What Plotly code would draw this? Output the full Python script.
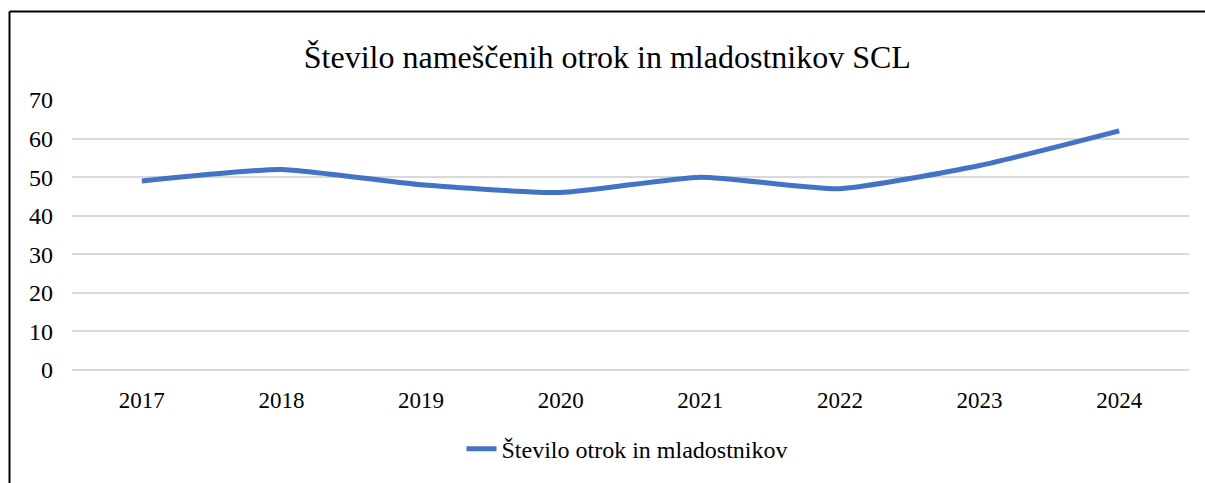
import plotly.graph_objects as go

years = ["2017", "2018", "2019", "2020", "2021", "2022", "2023", "2024"]
values = [49, 52, 48, 46, 50, 47, 53, 62]
series_name = "Število otrok in mladostnikov"
title_text = "Število nameščenih otrok in mladostnikov SCL"
y_ticks = [0, 10, 20, 30, 40, 50, 60, 70]

W, H = 1205, 483
L, R, T, B = 72, 16, 100, 110
pw, ph = W - L - R, H - T - B

fig = go.Figure()
fig.add_trace(go.Scatter(
    x=years, y=values, mode="lines", name=series_name,
    line=dict(color="#4472C4", width=5, shape="spline", smoothing=0.5),
    showlegend=True,
))

font_family = "Liberation Serif, Times New Roman, serif"

bx = (9.5 - L) / pw
by = (H - B - 10.5) / ph

fig.update_layout(
    width=W, height=H,
    margin=dict(l=L, r=R, t=T, b=B),
    paper_bgcolor="white", plot_bgcolor="white",
    font=dict(family=font_family, size=23, color="#000000"),
    title=dict(text=title_text, x=0.504, xref="container", xanchor="center",
               y=1 - 57 / H, yref="container", yanchor="middle",
               font=dict(family=font_family, size=32, color="#000000")),
    xaxis=dict(type="category", range=[-0.5, 7.5], showgrid=False, zeroline=False,
               showline=False, ticks="", ticklabelstandoff=14,
               tickfont=dict(family=font_family, size=23, color="#000000")),
    yaxis=dict(range=[0, 70], tickvals=y_ticks, showgrid=True, gridcolor="#D9D9D9",
               gridwidth=2, zeroline=True, zerolinecolor="#D9D9D9", zerolinewidth=2,
               showline=False, ticks="", ticklabelstandoff=18,
               tickfont=dict(family=font_family, size=24, color="#000000")),
    legend=dict(orientation="h", x=(627 - L) / pw, xanchor="center",
                y=(H - B - 453) / ph, yanchor="middle",
                font=dict(family=font_family, size=24, color="#000000")),
    shapes=[
        dict(type="line", xref="paper", yref="paper", x0=bx, x1=bx, y0=by, y1=-1,
             line=dict(color="#000000", width=2)),
        dict(type="line", xref="paper", yref="paper", x0=bx, x1=1.1, y0=by, y1=by,
             line=dict(color="#000000", width=2)),
    ],
)

fig.write_html("out.html", config={"displayModeBar": False},
               post_script="document.body.style.margin='0';document.body.style.overflow='hidden';")
